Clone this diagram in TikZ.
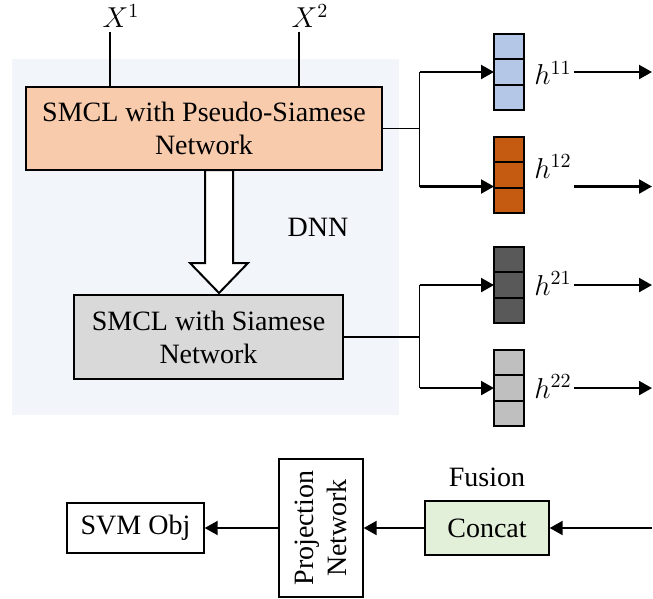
\documentclass[tikz,border=0pt]{standalone}
\usepackage{fontspec}
\setmainfont{Liberation Serif}
\usetikzlibrary{arrows.meta, positioning, calc, matrix}

\definecolor{panelbg}{HTML}{F2F6FB}
\definecolor{smclorange}{HTML}{F8CBAD}
\definecolor{smclgray}{HTML}{D9D9D9}
\definecolor{concatgreen}{HTML}{E2F0D9}
\definecolor{vecblue}{HTML}{B4C7E7}
\definecolor{vecorange}{HTML}{C55A11}
\definecolor{vecdark}{HTML}{595959}
\definecolor{veclight}{HTML}{BFBFBF}

\begin{document}
\begin{tikzpicture}[
    x=0.5pt, y=-0.5pt,
    >={Triangle[length=6.5pt,width=7pt]},
    every node/.style={font=\fontsize{14}{16.5}\selectfont},  % text size of all labels
    block/.style={draw, line width=0.7pt, align=center, inner sep=0pt},
    feed/.style={line width=0.6pt},
    flow/.style={->, line width=1.1pt}
]

% Styles for the feature vectors and their labels
\tikzset{
    vecstyle/.style={
        matrix of nodes,
        nodes in empty cells,
        inner sep=0pt,
        outer sep=0pt,
        row sep=-1pt,  % cells share their borders
        nodes={draw, line width=1pt, fill=#1, minimum width=15pt, minimum height=12.67pt, inner sep=0pt, outer sep=0pt},
    },
    hlabel/.style={anchor=base west, inner sep=1pt},
    xlabel/.style={anchor=base, inner sep=2pt}
}

\useasboundingbox (0,0) rectangle (653,599);

% DNN panel
\fill[panelbg] (12,59) rectangle (399,415);

% SMCL stages
\node[block, fill=smclorange, minimum width=178pt, minimum height=41.5pt] (smclp) at (204,128.5) {SMCL with Pseudo-Siamese\\Network};
\node[block, fill=smclgray, minimum width=134.5pt, minimum height=42pt] (smcls) at (208.5,337) {SMCL with Siamese\\Network};
\node (dnn) at (318,227) {DNN};

% Inputs X^1, X^2
\node[xlabel] (xone) at (121,28) {$X^1$};
\node[xlabel] (xtwo) at (310,28) {$X^2$};
\draw[feed] ([xshift=-5.5pt]xone.south) -- ([xshift=-5.5pt]xone.south |- smclp.north);
\draw[feed] ([xshift=-5.5pt]xtwo.south) -- ([xshift=-5.5pt]xtwo.south |- smclp.north);

% Hollow arrow from the first stage to the second
\draw[line width=1pt, fill=white] (205,170) -- (205,263) -- (190,263) -- (219,293) -- (248,263) -- (233,263) -- (233,170) -- cycle;

% Feature vectors h^{ij}
\matrix[vecstyle=vecblue, anchor=north west] (h11) at (493,33) { {} \\ {} \\ {} \\ };
\matrix[vecstyle=vecorange, below=12.5pt of h11] (h12) { {} \\ {} \\ {} \\ };
\matrix[vecstyle=vecdark, below=16pt of h12] (h21) { {} \\ {} \\ {} \\ };
\matrix[vecstyle=veclight, below=12.5pt of h21] (h22) { {} \\ {} \\ {} \\ };

\node[hlabel] (l11) at (532,85) {$h^{11}$};
\node[hlabel] (l12) at (532,178) {$h^{12}$};
\node[hlabel] (l21) at (532,295) {$h^{21}$};
\node[hlabel] (l22) at (532,398) {$h^{22}$};

% Branches into the vectors
\coordinate (split1) at ($(smclp.east)+(37,0)$);
\coordinate (split2) at (split1 |- smcls.east);
\coordinate (h12in) at ([yshift=-5.75pt]h12-2-1.west);
\coordinate (edge) at (652,0);

\draw[feed] (smclp.east) -- (split1);
\draw[feed] (split1 |- h11-2-1.west) -- (split1 |- h12in);
\draw[flow] (split1 |- h11-2-1.west) -- (h11-2-1.west);
\draw[flow] (split1 |- h12in) -- (h12in);

\draw[feed] (smcls.east) -- (split2);
\draw[feed] (split2 |- h21-2-1.west) -- (split2 |- h22-2-1.west);
\draw[flow] (split2 |- h21-2-1.west) -- (h21-2-1.west);
\draw[flow] (split2 |- h22-2-1.west) -- (h22-2-1.west);

% Outgoing features
\draw[flow] (l11.east |- h11-2-1.west) -- (edge |- h11-2-1.west);
\draw[flow] (l12.east |- h12in) -- (edge |- h12in);
\draw[flow] (l21.east |- h21-2-1.west) -- (edge |- h21-2-1.west);
\draw[flow] (l22.east |- h22-2-1.west) -- (edge |- h22-2-1.west);

% Fusion and objective
\node[block, fill=concatgreen, minimum width=62pt, minimum height=27pt] (concat) at (487,528) {Concat};
\node[above=3pt of concat] (fusion) {Fusion};
\node[block, fill=white, rotate=90, minimum width=69pt, minimum height=42pt] (proj) at (321,528) {Projection\\Network};
\node[block, fill=white, minimum width=68.5pt, minimum height=25pt] (svm) at (135.5,528) {SVM Obj};

\draw[flow] (edge |- concat.east) -- (concat.east);
\draw[flow] (concat) -- (proj);
\draw[flow] (proj) -- (svm);

\end{tikzpicture}
\end{document}
